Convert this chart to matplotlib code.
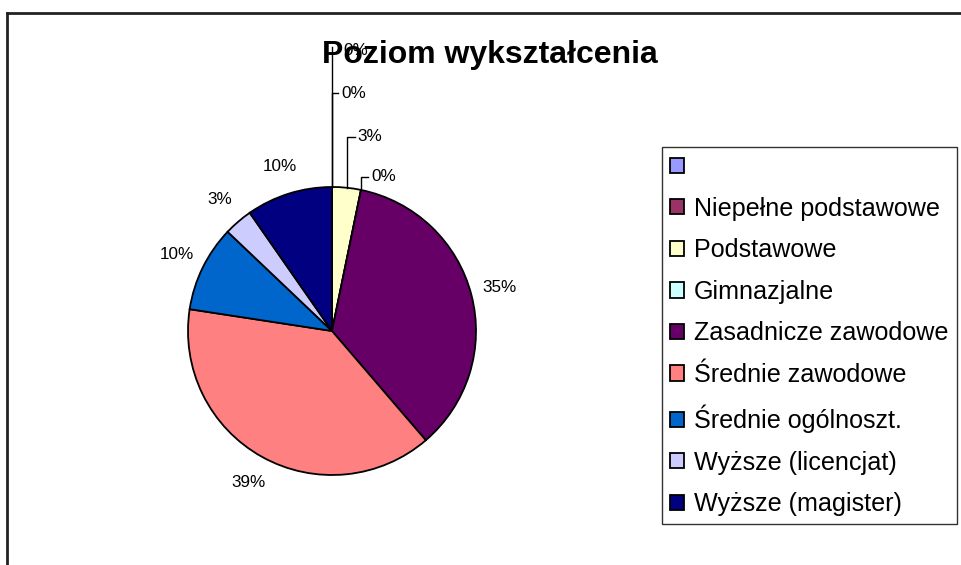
import numpy as np
import matplotlib
matplotlib.use("Agg")
import matplotlib.pyplot as plt
from matplotlib.lines import Line2D

plt.rcParams['font.family'] = ['Liberation Sans', 'DejaVu Sans']

# data (number of respondents)
categories = ["", "Niepełne podstawowe", "Podstawowe", "Gimnazjalne",
              "Zasadnicze zawodowe", "Średnie zawodowe", "Średnie ogólnoszt.",
              "Wyższe (licencjat)", "Wyższe (magister)"]
counts = [0, 0, 1, 0, 11, 12, 3, 1, 3]
colors = ["#9999FF", "#993366", "#FFFFCC", "#CCFFFF", "#660066",
          "#FF8080", "#0066CC", "#CCCCFF", "#000080"]

W, H = 962, 565
fig = plt.figure(figsize=(W / 100, H / 100), dpi=100)
ax = fig.add_axes([0, 0, 1, 1])

cx, cy, r = 332, H - 331, 144
wedges, _ = ax.pie(counts, colors=colors, startangle=90, counterclock=False,
                   center=(cx, cy), radius=r, frame=True,
                   wedgeprops=dict(edgecolor="black", linewidth=1.3))
ax.set_xlim(0, W)
ax.set_ylim(0, H)
ax.set_aspect("equal")
ax.axis("off")

total = sum(counts)
pcts = [c / total * 100 for c in counts]
cum = np.concatenate([[0], np.cumsum(counts)]) / total

# zero slices (and the thin one) get leader lines, placed like Excel did
zero_offsets = {0: (H - 47, 12, H - 50), 1: (H - 93, 6, H - 93),
                2: (H - 137, 8, H - 136), 3: (H - 177, 7, H - 176)}
lab_fs = 12.3
for i, p in enumerate(pcts):
    txt = f"{p:.0f}%"
    if i in zero_offsets:
        if i == 2:
            ang = np.deg2rad(90 - (cum[i] + cum[i + 1]) / 2 * 360)
        else:
            ang = np.deg2rad(90 - cum[i] * 360)
        ax0 = cx + r * np.cos(ang)
        ay0 = cy + r * np.sin(ang)
        ytop, tick, ytext = zero_offsets[i]
        if i == 0:
            ax.plot([ax0, ax0], [ay0, ytop], color="black", lw=1)
            ax.text(ax0 + 11, ytext, txt, fontsize=lab_fs, ha="left", va="center")
        else:
            ax.plot([ax0, ax0, ax0 + tick], [ay0, ytop, ytop], color="black", lw=1)
            ax.text(ax0 + tick + 3, ytext, txt, fontsize=lab_fs, ha="left", va="center")
    else:
        mid = np.deg2rad(90 - (cum[i] + cum[i + 1]) / 2 * 360)
        ax.text(cx + 1.2 * r * np.cos(mid), cy + 1.2 * r * np.sin(mid), txt,
                fontsize=lab_fs, ha="center", va="center")

ax.text(490, H - 55, "Poziom wykształcenia", fontsize=23, fontweight="bold",
        ha="center", va="center")

leg = fig.legend(wedges, categories, loc="upper left",
                 bbox_to_anchor=(662 / W, 1 - 147 / H), borderaxespad=0,
                 fontsize=18.1, frameon=True, fancybox=False, edgecolor="black",
                 handlelength=0.56, handleheight=0.56, handletextpad=0.4,
                 labelspacing=0.7, borderpad=0.32)
leg.get_frame().set_linewidth(1)

# outer chart-area frame (only top and left visible)
fig.add_artist(Line2D([7 / W, 7 / W], [0, 1 - 13 / H], color="#222222", lw=2))
fig.add_artist(Line2D([7 / W, 1], [1 - 13 / H, 1 - 13 / H], color="#222222", lw=2))

fig.savefig("out.png", dpi=100)
